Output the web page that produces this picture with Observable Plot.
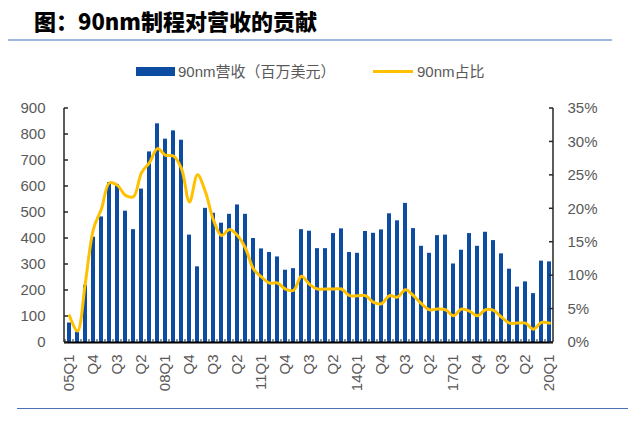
<!DOCTYPE html>
<html>
<head>
<meta charset="utf-8">
<script src="https://cdn.jsdelivr.net/npm/d3@7"></script>
<script src="https://cdn.jsdelivr.net/npm/@observablehq/plot@0.6"></script>
<style>
  html, body { margin: 0; padding: 0; background: #fff; }
  body { width: 628px; height: 423px; position: relative; overflow: hidden;
         font-family: "Liberation Sans", Arial, "Noto Sans CJK SC", sans-serif; }
  #title { position: absolute; left: 34px; top: 5px; font-family: "Noto Sans CJK SC", sans-serif;
           font-weight: 900; font-size: 22px; line-height: 30px; color: #000; white-space: nowrap; }
  #topline { position: absolute; left: 8px; top: 39px; width: 604px; height: 2px; background: #9FB6E0; }
  #bottomline { position: absolute; left: 17px; top: 408px; width: 611px; height: 1px; background: #4A70B8; }
  .leg { position: absolute; font-size: 15px; line-height: 18px; color: #595959; white-space: nowrap; }
  .leg .cjk { font-family: "Noto Sans CJK SC", sans-serif; }
  #sw1 { position: absolute; left: 136px; top: 67px; width: 39px; height: 9px; background: #0C4DA2; }
  #sw2 { position: absolute; left: 373px; top: 70px; width: 40px; height: 3px; background: #FFC000; }
  #chart { position: absolute; left: 0; top: 90px; }
</style>
</head>
<body>
<div id="title">图：90nm制程对营收的贡献</div>
<div id="topline"></div>
<div id="sw1"></div>
<div class="leg" style="left:178px; top:62px;">90nm<span class="cjk">营收（百万美元）</span></div>
<div id="sw2"></div>
<div class="leg" style="left:417px; top:62px;">90nm<span class="cjk">占比</span></div>
<div id="chart"></div>
<div id="bottomline"></div>
<script>
// Quarters 05Q1 .. 20Q1
const years = ["05","06","07","08","09","10","11","12","13","14","15","16","17","18","19","20"];
const quarters = [];
for (const y of years) for (const q of ["Q1","Q2","Q3","Q4"]) {
  if (quarters.length < 61) quarters.push(y + q);
}

// 90nm revenue (million USD)
const revenue = [75, 40, 220, 405, 483, 615, 608, 505, 434, 590,
                 733, 841, 782, 814, 778, 413, 291, 516, 497, 459,
                 493, 529, 493, 400, 360, 346, 329, 278, 284, 434,
                 428, 361, 361, 419, 437, 346, 343, 427, 420, 433,
                 495, 468, 535, 438, 370, 343, 411, 413, 302, 355,
                 419, 370, 424, 392, 341, 282, 213, 233, 188, 313,
                 310];

// 90nm share of revenue (%)
const share = [4.0, 1.7, 9.1, 17.0, 20.0, 23.9, 23.5, 22.0, 21.8, 25.4,
               26.9, 29.0, 28.0, 27.9, 26.0, 21.0, 25.1, 22.5, 18.3, 16.0,
               16.9, 16.0, 14.1, 11.0, 9.8, 8.9, 8.9, 8.0, 7.8, 9.9,
               8.7, 8.0, 8.0, 8.0, 8.0, 7.0, 7.0, 7.0, 6.0, 5.8,
               7.0, 6.8, 7.9, 7.0, 5.8, 4.9, 5.0, 4.9, 4.0, 5.0,
               4.7, 4.0, 4.9, 4.8, 3.8, 2.9, 2.9, 2.9, 2.0, 3.0,
               2.9];

const leftTicks = [0, 100, 200, 300, 400, 500, 600, 700, 800, 900];
const rightTicks = [0, 5, 10, 15, 20, 25, 30, 35];
const xTickLabels = ["05Q1","Q4","Q3","Q2","08Q1","Q4","Q3","Q2","11Q1","Q4","Q3","Q2",
                     "14Q1","Q4","Q3","Q2","17Q1","Q4","Q3","Q2","20Q1"];
const xTicks = quarters.filter((d, i) => i % 3 === 0);
const xLabelOf = new Map(xTicks.map((d, i) => [d, xTickLabels[i]]));

const yMax = 900, pMax = 35, k = yMax / pMax;
const data = quarters.map((q, i) => ({q, rev: revenue[i], pct: share[i]}));

const plot = Plot.plot({
  width: 628,
  height: 310,
  marginTop: 18,
  marginBottom: 58,
  marginLeft: 64,
  marginRight: 75,
  style: {fontFamily: '"Liberation Sans", Arial, sans-serif', fontSize: "15px", color: "#595959", background: "transparent"},
  x: {type: "band", domain: quarters, paddingInner: 0.5, paddingOuter: 0.25, axis: null, label: null},
  y: {domain: [0, yMax], axis: null, label: null},
  marks: [
    Plot.barY(data, {x: "q", y: "rev", fill: "#0C4DA2"}),
    Plot.line(data, {x: "q", y: d => d.pct * k, stroke: "#FFC000", strokeWidth: 3, curve: "catmull-rom"}),
    Plot.ruleY([0], {stroke: "#000", strokeWidth: 2}),
    Plot.axisY({anchor: "left", ticks: leftTicks, tickSize: 0, tickPadding: 19, fill: "#595959", label: null}),
    Plot.axisY({anchor: "right", ticks: rightTicks.map(p => p * k), tickFormat: v => Math.round(v / k) + "%",
                tickSize: 0, tickPadding: 14, fill: "#595959", label: null}),
    Plot.axisX({ticks: xTicks, tickFormat: d => xLabelOf.get(d), tickRotate: -90, tickSize: 0, tickPadding: 12,
                fill: "#595959", label: null})
  ]
});
document.getElementById("chart").appendChild(plot);

// Axis lines and inward ticks, positioned through the plot's own scales
const xs = plot.scale("x"), ys = plot.scale("y");
const svg = d3.select(plot);
const [x0, x1] = [xs.range[0], xs.range[1]];
const [yb, yt] = [ys.apply(0), ys.apply(yMax)];
const g = svg.append("g").attr("stroke", "#262626").attr("stroke-width", 1.5);
g.append("line").attr("x1", x0).attr("x2", x0).attr("y1", yt).attr("y2", yb);
g.append("line").attr("x1", x1).attr("x2", x1).attr("y1", yt).attr("y2", yb);
for (const t of leftTicks) {
  const y = ys.apply(t);
  g.append("line").attr("x1", x0).attr("x2", x0 + 4).attr("y1", y).attr("y2", y);
}
for (const p of rightTicks) {
  const y = ys.apply(p * k);
  g.append("line").attr("x1", x1 - 4).attr("x2", x1).attr("y1", y).attr("y2", y);
}
const step = xs.step;
quarters.forEach((q, i) => {
  const xb = xs.apply(q) - (step - xs.bandwidth) / 2;
  g.append("line").attr("x1", xb).attr("x2", xb).attr("y1", yb).attr("y2", yb - 3).attr("stroke-width", 1);
});
</script>
</body>
</html>
